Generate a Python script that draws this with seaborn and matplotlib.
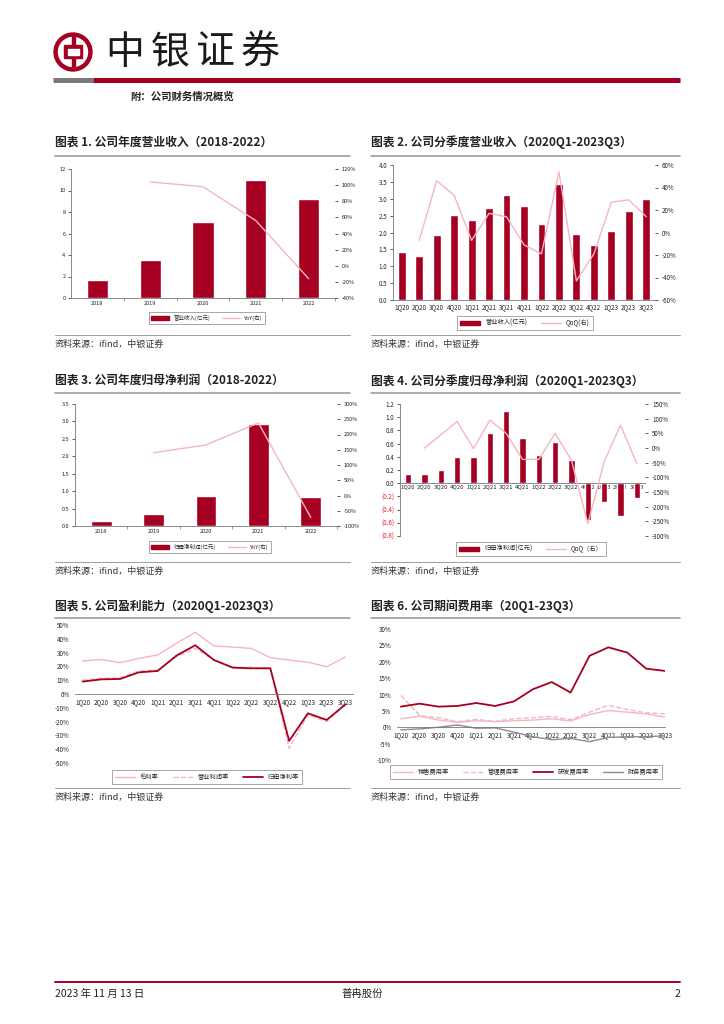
import numpy as np
import pandas as pd
import matplotlib
matplotlib.use("Agg")
import matplotlib.pyplot as plt
import seaborn as sns
from matplotlib.patches import Circle, Rectangle, Patch
from matplotlib.lines import Line2D
from matplotlib.ticker import FuncFormatter, MultipleLocator

# ---- data ----
years = ['2018', '2019', '2020', '2021', '2022']
rev_annual = [1.72, 3.58, 7.08, 11.02, 9.22]          # 营业收入(亿元)
rev_yoy = [None, 104, 98, 56, -16]                    # YoY %
np_annual = [0.15, 0.33, 0.85, 2.93, 0.84]            # 归母净利润(亿元)
np_yoy = [None, 140, 166, 238, -72]

quarters = ['1Q20', '2Q20', '3Q20', '4Q20', '1Q21', '2Q21', '3Q21', '4Q21',
            '1Q22', '2Q22', '3Q22', '4Q22', '1Q23', '2Q23', '3Q23']
rev_q = [1.43, 1.30, 1.92, 2.52, 2.36, 2.74, 3.12, 2.80, 2.24, 3.43, 1.96, 1.62, 2.04, 2.63, 2.99]
rev_qoq = [None, -7, 46, 33, -7, 17, 14, -11, -19, 54, -43, -19, 27, 29, 14]
np_q = [0.14, 0.14, 0.20, 0.40, 0.39, 0.76, 1.10, 0.68, 0.42, 0.62, 0.35, -0.56, -0.28, -0.50, -0.23]
np_qoq = [None, 0, 45, 90, -2, 95, 50, -39, -39, 50, -42, -258, -47, 78, -53]

gross_margin = [23.9, 25.0, 22.7, 25.8, 28.3, 36.7, 44.7, 34.8, 34.0, 33.0, 26.3, 24.6, 23.0, 19.8, 26.8]
op_margin = [10.0, 11.4, 11.8, 16.7, 17.4, 27.0, 33.0, 24.6, 19.3, 19.3, 18.6, -39.4, -15.0, -20.0, -7.5]
net_margin = [9.0, 10.6, 10.9, 15.7, 16.7, 27.8, 35.3, 24.6, 19.1, 18.6, 18.6, -34.0, -14.0, -18.8, -7.5]

sell_ratio = [2.6, 3.4, 2.2, 1.5, 2.0, 1.7, 2.0, 2.2, 2.6, 1.9, 3.9, 5.1, 4.6, 4.1, 3.1]
admin_ratio = [9.7, 3.6, 2.9, 1.7, 2.4, 1.8, 2.6, 2.9, 3.3, 2.3, 4.6, 6.7, 5.4, 4.4, 4.1]
rd_ratio = [6.3, 7.2, 6.3, 6.5, 7.4, 6.5, 7.9, 11.6, 13.8, 10.6, 21.8, 24.4, 22.8, 17.9, 17.2]
fin_ratio = [-0.8, -0.5, 0.0, 0.7, -0.3, -0.2, -1.5, -2.9, -3.8, -3.4, -4.4, -3.1, -2.9, -2.9, -2.6]

RED = '#A50021'
PINK = '#F5B5C3'
GRAY = '#8A8A9A'
LINE_GRAY = '#9C9C9C'
TXT = '#222222'

sns.set_theme(style="white")
plt.rcParams['font.family'] = ['Noto Sans CJK SC', 'DejaVu Sans']
plt.rcParams['axes.unicode_minus'] = False

W, H = 724, 1024
fig = plt.figure(figsize=(W / 100, H / 100), dpi=100)


def fx(px):
    return px / W


def fy(py):
    return 1 - py / H


def box(l, t, r, b):
    return [l / W, 1 - b / H, (r - l) / W, (b - t) / H]


# page layer in pixel coordinates
bg = fig.add_axes([0, 0, 1, 1])
bg.set_xlim(0, W)
bg.set_ylim(H, 0)
bg.axis('off')

# logo
bg.add_patch(Circle((73, 52), 19, color=RED))
bg.add_patch(Circle((73, 52), 14.5, color='white'))
bg.add_patch(Rectangle((71.5, 36), 3, 32, color=RED))
bg.add_patch(Rectangle((64, 45), 18, 13, color=RED))
bg.add_patch(Rectangle((67.5, 48.5), 11, 6, color='white'))
for i, ch in enumerate('中银证券'):
    bg.text(125 + i * 45, 53, ch, fontsize=28, color='#1a1a1a', ha='center', va='center')

bg.plot([53, 93], [80, 80], color='#7a7a7a', lw=3.6, solid_capstyle='butt')
bg.plot([93, 680], [80, 80], color=RED, lw=3.6, solid_capstyle='butt')
bg.text(130, 97, '附：公司财务情况概览', fontsize=7.5, fontweight='bold', color=TXT, va='center')

titles = [(55, 142, '图表 1. 公司年度营业收入（2018-2022）'),
          (371, 142, '图表 2. 公司分季度营业收入（2020Q1-2023Q3）'),
          (55, 381, '图表 3. 公司年度归母净利润（2018-2022）'),
          (371, 381, '图表 4. 公司分季度归母净利润（2020Q1-2023Q3）'),
          (55, 606, '图表 5. 公司盈利能力（2020Q1-2023Q3）'),
          (371, 606, '图表 6. 公司期间费用率（20Q1-23Q3）')]
for x, y, t in titles:
    bg.text(x, y, t, fontsize=8.5, fontweight='bold', color=TXT, va='center')
for y in [156, 393, 618]:
    bg.plot([55, 350], [y, y], color=LINE_GRAY, lw=1.2)
    bg.plot([371, 680], [y, y], color=LINE_GRAY, lw=1.2)
for y in [335, 562, 788]:
    bg.plot([55, 350], [y, y], color=LINE_GRAY, lw=0.7)
    bg.plot([371, 680], [y, y], color=LINE_GRAY, lw=0.7)
    bg.text(55, y + 9, '资料来源：ifind，中银证券', fontsize=6.5, color='#333333', va='center', style='italic')
    bg.text(371, y + 9, '资料来源：ifind，中银证券', fontsize=6.5, color='#333333', va='center', style='italic')

# footer
bg.plot([55, 680], [982, 982], color=RED, lw=1.4)
bg.text(55, 994, '2023 年 11 月 13 日', fontsize=7.5, color=TXT, va='center')
bg.text(362, 994, '普冉股份', fontsize=7.5, color=TXT, va='center', ha='center')
bg.text(680, 994, '2', fontsize=7.5, color=TXT, va='center', ha='right')


def style_left(ax, fs):
    for s in ['top', 'right']:
        ax.spines[s].set_visible(False)
    ax.spines['left'].set_color('#777777')
    ax.spines['bottom'].set_color('#777777')
    ax.spines['left'].set_linewidth(0.6)
    ax.spines['bottom'].set_linewidth(0.6)
    ax.tick_params(axis='both', labelsize=fs, colors=TXT, length=2, width=0.5, pad=2)
    ax.tick_params(axis='x', length=0)
    ax.set_xlabel('')
    ax.set_ylabel('')
    ax.set_facecolor('none')


def style_right(ax2, fs):
    for s in ax2.spines.values():
        s.set_visible(False)
    ax2.tick_params(axis='y', labelsize=fs, colors=TXT, length=2, width=0.5, pad=3, right=True)
    ax2.yaxis.set_major_formatter(FuncFormatter(lambda v, p: '%d%%' % v))
    ax2.set_ylabel('')
    ax2.grid(False)


def legend(handles, labels, cx, cy, fs=4.5, ncol=None):
    leg = fig.legend(handles, labels, loc='center', bbox_to_anchor=(fx(cx), fy(cy)),
                     ncol=ncol or len(labels), fontsize=fs, frameon=True, fancybox=False,
                     edgecolor='#666666', handlelength=3.2, columnspacing=2.2,
                     borderpad=0.45, handleheight=0.6)
    leg.get_frame().set_linewidth(0.5)
    return leg


def series(vals):
    x = [i for i, v in enumerate(vals) if v is not None]
    y = [v for v in vals if v is not None]
    return np.array(x), np.array(y)


# ---- chart 1 ----
ax = fig.add_axes(box(71, 169, 335, 298))
sns.barplot(x=years, y=rev_annual, color=RED, saturation=1, width=0.4, ax=ax)
ax.set_ylim(0, 12)
ax.yaxis.set_major_locator(MultipleLocator(2))
style_left(ax, 4)
ax2 = ax.twinx()
xs, ys = series(rev_yoy)
sns.lineplot(x=xs, y=ys, ax=ax2, color=PINK, lw=1)
ax2.set_ylim(-40, 120)
ax2.yaxis.set_major_locator(MultipleLocator(20))
style_right(ax2, 4)
ax.set_xlim(-0.5, len(years) - 0.5)
ax.set_xticks(np.arange(len(years)) + 0.5, minor=True)
ax.tick_params(axis='x', which='minor', length=2, width=0.5, bottom=True, colors='#777777')
legend([Patch(color=RED), Line2D([], [], color=PINK, lw=1)], ['营业收入(亿元)', 'YoY(右)'], 207, 318, 4)

# ---- chart 2 ----
ax = fig.add_axes(box(393, 165, 655, 300))
sns.barplot(x=quarters, y=rev_q, color=RED, saturation=1, width=0.45, ax=ax)
ax.set_ylim(0, 4)
ax.yaxis.set_major_locator(MultipleLocator(0.5))
ax.yaxis.set_major_formatter(FuncFormatter(lambda v, p: '%.1f' % v))
style_left(ax, 4.5)
ax2 = ax.twinx()
xs, ys = series(rev_qoq)
sns.lineplot(x=xs, y=ys, ax=ax2, color=PINK, lw=1)
ax2.set_ylim(-60, 60)
ax2.yaxis.set_major_locator(MultipleLocator(20))
style_right(ax2, 4.5)
ax.set_xlim(-0.5, len(quarters) - 0.5)
legend([Patch(color=RED), Line2D([], [], color=PINK, lw=1)], ['营业收入(亿元)', 'QoQ(右)'], 525, 323)

# ---- chart 3 ----
ax = fig.add_axes(box(75, 404, 337, 526))
sns.barplot(x=years, y=np_annual, color=RED, saturation=1, width=0.4, ax=ax)
ax.set_ylim(0, 3.5)
ax.yaxis.set_major_locator(MultipleLocator(0.5))
ax.yaxis.set_major_formatter(FuncFormatter(lambda v, p: '%.1f' % v))
style_left(ax, 4)
ax2 = ax.twinx()
xs, ys = series(np_yoy)
sns.lineplot(x=xs, y=ys, ax=ax2, color=PINK, lw=1)
ax2.set_ylim(-100, 300)
ax2.yaxis.set_major_locator(MultipleLocator(50))
style_right(ax2, 4)
ax.set_xlim(-0.5, len(years) - 0.5)
ax.set_xticks(np.arange(len(years)) + 0.5, minor=True)
ax.tick_params(axis='x', which='minor', length=2, width=0.5, bottom=True, colors='#777777')
legend([Patch(color=RED), Line2D([], [], color=PINK, lw=1)], ['归母净利润(亿元)', 'YoY(右)'], 210, 547, 4)

# ---- chart 4 ----
ax = fig.add_axes(box(400, 404, 645, 536))
sns.barplot(x=quarters, y=np_q, color=RED, saturation=1, width=0.4, ax=ax)
ax.set_ylim(-0.8, 1.2)
ax.yaxis.set_major_locator(MultipleLocator(0.2))
ax.yaxis.set_major_formatter(FuncFormatter(lambda v, p: '(%.1f)' % abs(v) if v < -1e-9 else '%.1f' % abs(v)))
style_left(ax, 4.5)
ax.spines['bottom'].set_position(('data', 0))
ax.tick_params(axis='x', labelsize=4.3, pad=1)
ax2 = ax.twinx()
xs, ys = series(np_qoq)
sns.lineplot(x=xs, y=ys, ax=ax2, color=PINK, lw=1)
ax2.set_ylim(-300, 150)
ax2.yaxis.set_major_locator(MultipleLocator(50))
style_right(ax2, 4.5)
ax.set_xlim(-0.5, len(quarters) - 0.5)
fig.canvas.draw()
for lab in ax.get_yticklabels():
    if lab.get_text().startswith('('):
        lab.set_color('#E8202A')
legend([Patch(color=RED), Line2D([], [], color=PINK, lw=1)], ['归母净利润(亿元)', 'QoQ（右）'], 531, 549)

# ---- chart 5 ----
ax = fig.add_axes(box(75, 625, 353, 763))
idx = np.arange(len(quarters))
sns.lineplot(x=idx, y=gross_margin, ax=ax, color=PINK, lw=1)
sns.lineplot(x=idx, y=op_margin, ax=ax, color=PINK, lw=1, linestyle='--')
sns.lineplot(x=idx, y=net_margin, ax=ax, color=RED, lw=1.3)
ax.set_ylim(-50, 50)
ax.yaxis.set_major_locator(MultipleLocator(10))
ax.yaxis.set_major_formatter(FuncFormatter(lambda v, p: '%d%%' % round(v)))
style_left(ax, 4.5)
ax.spines['left'].set_visible(False)
ax.spines['bottom'].set_position(('data', 0))
ax.set_xticks(idx)
ax.set_xticklabels(quarters)
ax.set_xlim(-0.4, len(quarters) - 0.6)
ax.tick_params(axis='x', labelsize=4.5, pad=3)
legend([Line2D([], [], color=PINK, lw=1), Line2D([], [], color=PINK, lw=1, ls='--'),
        Line2D([], [], color=RED, lw=1.3)], ['毛利率', '营业利润率', '归母净利率'], 207, 777)

# ---- chart 6 ----
ax = fig.add_axes(box(397, 629, 665, 760))
sns.lineplot(x=idx, y=sell_ratio, ax=ax, color=PINK, lw=1)
sns.lineplot(x=idx, y=admin_ratio, ax=ax, color=PINK, lw=1, linestyle='--')
sns.lineplot(x=idx, y=rd_ratio, ax=ax, color=RED, lw=1.3)
sns.lineplot(x=idx, y=fin_ratio, ax=ax, color=GRAY, lw=1)
ax.set_ylim(-10, 30)
ax.yaxis.set_major_locator(MultipleLocator(5))
ax.yaxis.set_major_formatter(FuncFormatter(lambda v, p: '%d%%' % round(v)))
style_left(ax, 4.5)
ax.spines['left'].set_visible(False)
ax.spines['bottom'].set_position(('data', 0))
ax.set_xticks(idx)
ax.set_xticklabels(quarters)
ax.set_xlim(-0.2, len(quarters) - 1)
ax.tick_params(axis='x', labelsize=4.5, pad=3)
legend([Line2D([], [], color=PINK, lw=1), Line2D([], [], color=PINK, lw=1, ls='--'),
        Line2D([], [], color=RED, lw=1.3), Line2D([], [], color=GRAY, lw=1)],
       ['销售费用率', '管理费用率', '研发费用率', '财务费用率'], 526, 772)

fig.savefig('out.png', dpi=100)
